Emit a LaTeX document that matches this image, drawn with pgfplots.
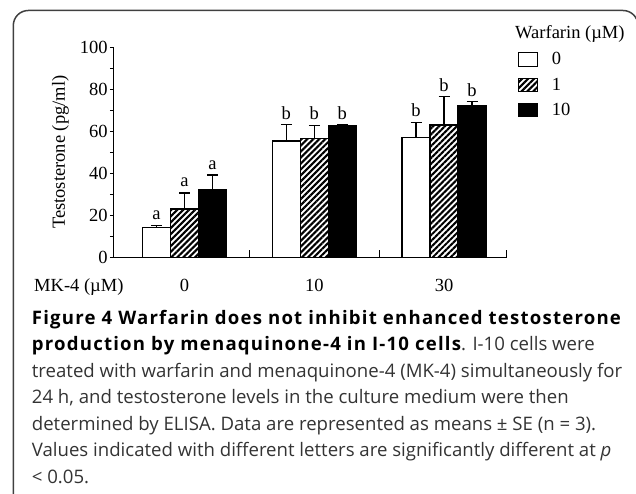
\documentclass[border=0pt]{standalone}
\usepackage{fontspec}
\setmainfont{Liberation Serif}
\newfontfamily\capfont[BoldFeatures={LetterSpace=6.5}]{Open Sans}
\usepackage{pgfplots}
\usepackage{pgfplotstable}
\pgfplotsset{compat=1.18}
\usetikzlibrary{patterns.meta}

% MK-4 group index (0 -> 0 uM, 1 -> 10 uM, 2 -> 30 uM), mean, SE
\pgfplotstableread{
x y e
0 14.0 1.0
1 55.4 7.9
2 57.1 6.9
}\warfzero
\pgfplotstableread{
x y e
0 23.0 7.6
1 56.5 6.2
2 63.0 13.5
}\warfone
\pgfplotstableread{
x y e
0 32.0 7.2
1 62.7 0.6
2 72.2 1.8
}\warften

\pgfplotsset{
  boxlegend/.style={legend image code/.code={\draw[##1] (0pt,-6.7pt) rectangle (19pt,6.7pt);}},
  common/.style={
    at={(113.3pt,236.7pt)}, anchor=south west,
    scale only axis, width=393.4pt, height=210pt,
    xmin=-0.549, xmax=2.483, ymin=0, ymax=100,
    axis x line*=bottom, axis y line*=left,
    axis line style={-, line width=1.3pt, black},
    /pgf/number format/assume math mode=true,
    clip=false,
  }
}

\begin{document}
\begin{tikzpicture}[x=1pt,y=1pt,font=\fontsize{18.5}{22}\selectfont]
% frame
\draw[line width=1.5pt, black!75, rounded corners=15pt] (13.3,-30) rectangle (638,483.5);

% axis with bars
\begin{axis}[common,
  ybar=0pt, bar width=28pt,
  tick align=inside, major tick length=7pt,
  xtick={0.5,1.5,2.483}, xticklabels={},
  ytick=\empty,
  tick style={line width=1.3pt, black},
  error bars/y dir=plus, error bars/y explicit,
  error bars/error bar style={line width=1.2pt, black},
  error bars/error mark options={rotate=90, mark size=5.5pt, line width=1.2pt, black},
  legend cell align=left,
  legend style={at={(1.028,0.9838)}, anchor=north west, draw=none, fill=none,
    inner sep=0pt, outer sep=0pt, row sep=7.5pt,
    font=\fontsize{18.5}{22}\selectfont,
    /tikz/every odd column/.append style={column sep=12pt}},
]
\addplot[draw=black, fill=white, line width=1.2pt, boxlegend]
  table[x=x, y=y, y error=e] {\warfzero};
\addlegendentry{0}
\addplot[draw=black, line width=1.2pt, pattern={Lines[angle=45,distance=4.2pt,line width=2.1pt]}, boxlegend]
  table[x=x, y=y, y error=e] {\warfone};
\addlegendentry{1}
\addplot[draw=black, fill=black, line width=1.2pt, boxlegend]
  table[x=x, y=y, y error=e] {\warften};
\addlegendentry{10}

% significance letters
\node[anchor=base] at (axis cs:-0.2158,17.8) {a};
\node[anchor=base] at (axis cs:0,33.6) {a};
\node[anchor=base] at (axis cs:0.2158,41.9) {a};
\node[anchor=base] at (axis cs:0.7842,65.4) {b};
\node[anchor=base] at (axis cs:1,65.4) {b};
\node[anchor=base] at (axis cs:1.2158,65.4) {b};
\node[anchor=base] at (axis cs:1.7842,67.0) {b};
\node[anchor=base] at (axis cs:2,78.9) {b};
\node[anchor=base] at (axis cs:2.2158,76.5) {b};
\end{axis}

% axis with y ticks and category labels
\begin{axis}[common,
  tick align=outside, major tick length=3.5pt, minor tick length=3.5pt,
  ytick={0,20,40,60,80,100}, minor ytick={10,30,50,70,90},
  ytick style={line width=1.3pt, black},
  xtick={0,1,2}, xticklabels={0,10,30},
  xtick style={draw=none},
  xticklabel style={anchor=base, yshift=-31pt},
  yticklabel style={inner sep=2pt},
  ylabel={Testosterone (pg/ml)},
  ylabel style={at={(axis description cs:-0.1228,0.5)}, anchor=base},
]
\end{axis}

\node[anchor=base west] at (30.7,202.3) {MK-4 (µM)};
\node[anchor=base west] at (511.7,455.7) {Warfarin (µM)};

% caption
\begin{scope}[every node/.style={anchor=base west, inner sep=0pt, font=\capfont\fontsize{18.6}{22}\selectfont, text=black!80}]
\node at (31.7,169.7) {\textbf{\color{black}Figure 4 Warfarin does not inhibit enhanced testosterone}};
\node at (31.7,143.2) {\textbf{\color{black}production by menaquinone-4 in I-10 cells}. I-10 cells were};
\node at (31.7,116.7) {treated with warfarin and menaquinone-4 (MK-4) simultaneously for};
\node at (31.7,90.1) {24 h, and testosterone levels in the culture medium were then};
\node at (31.7,63.6) {determined by ELISA. Data are represented as means ± SE (n = 3).};
\node at (31.7,37.1) {Values indicated with different letters are significantly different at \textit{p}};
\node at (31.7,10.6) {< 0.05.};
\end{scope}

\pgfresetboundingbox
\path[use as bounding box] (0,0) rectangle (636,494);
\end{tikzpicture}
\end{document}
